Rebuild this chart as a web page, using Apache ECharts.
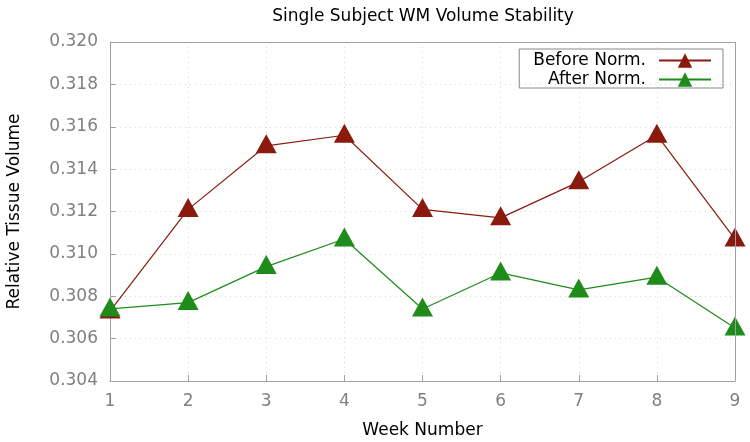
<!DOCTYPE html>
<html><head><meta charset="utf-8">
<script src="https://cdn.jsdelivr.net/npm/echarts@6/dist/echarts.min.js"></script>
<style>html,body{margin:0;padding:0;background:#fff}#c{width:750px;height:442px}</style>
</head><body><div id="c"></div>
<script>
const weeks = [1, 2, 3, 4, 5, 6, 7, 8, 9];
const beforeNorm = [0.3073, 0.3121, 0.3151, 0.3156, 0.3121, 0.3117, 0.3134, 0.3156, 0.3107];
const afterNorm = [0.3074, 0.3077, 0.3094, 0.3107, 0.3074, 0.3091, 0.3083, 0.3089, 0.3065];
const yTicks = ['0.304','0.306','0.308','0.310','0.312','0.314','0.316','0.318','0.320'];

const chart = echarts.init(document.getElementById('c'));
const font = 'DejaVu Sans';
chart.setOption({
  animation: false,
  backgroundColor: '#fff',
  title: {text: 'Single Subject WM Volume Stability', left: 418, textAlign: 'center', top: 3,
    textStyle: {fontFamily: font, fontSize: 17, fontWeight: 'normal', color: '#000'}},
  grid: {left: 110, right: 15, top: 42, bottom: 61, outerBoundsMode: 'none', containLabel: false},
  legend: {
    right: 27, top: 49, orient: 'vertical', align: 'right',
    borderColor: '#888', borderWidth: 1, borderRadius: 0,
    padding: [3, 11, 0, 14], itemGap: 2, itemWidth: 52, itemHeight: 18,
    textStyle: {fontFamily: font, fontSize: 17, color: '#000', padding: [0, 8, 0, 0]},
    data: [{name: 'Before Norm.'}, {name: 'After Norm.'}]
  },
  xAxis: {
    type: 'value', min: 1, max: 9, interval: 1,
    name: 'Week Number', nameLocation: 'middle', nameGap: 41,
    nameTextStyle: {fontFamily: font, fontSize: 17, color: '#000'},
    axisLine: {show: true, lineStyle: {color: '#a0a0a0'}},
    axisTick: {show: true, inside: true, length: 6, lineStyle: {color: '#a0a0a0'}},
    axisLabel: {fontFamily: font, fontSize: 17, color: '#808080', margin: 12},
    splitLine: {show: true, lineStyle: {color: '#d8d8d8', type: [1, 4]}}
  },
  yAxis: {
    type: 'value', min: 0.304, max: 0.320, interval: 0.002,
    name: 'Relative Tissue Volume', nameLocation: 'middle', nameGap: 87,
    nameTextStyle: {fontFamily: font, fontSize: 17, color: '#000'},
    axisLine: {show: true, lineStyle: {color: '#a0a0a0'}},
    axisTick: {show: true, inside: true, length: 6, lineStyle: {color: '#a0a0a0'}},
    axisLabel: {fontFamily: font, fontSize: 17, color: '#808080', margin: 12,
      formatter: v => { const i = Math.round((v - 0.304) / 0.002); return yTicks[i] || ''; }},
    splitLine: {show: true, lineStyle: {color: '#d8d8d8', type: [1, 4]}}
  },
  series: [
    {name: 'Before Norm.', type: 'line', data: weeks.map((w, i) => [w, beforeNorm[i]]),
      symbol: 'triangle', symbolSize: [21, 19], symbolOffset: [0, -2], color: '#8b1a0e',
      lineStyle: {width: 1.2, color: '#8b1a0e'}, itemStyle: {color: '#8b1a0e'}, z: 2},
    {name: 'After Norm.', type: 'line', data: weeks.map((w, i) => [w, afterNorm[i]]),
      symbol: 'triangle', symbolSize: [21, 19], symbolOffset: [0, -2], color: '#1f8b1a',
      lineStyle: {width: 1.2, color: '#1f8b1a'}, itemStyle: {color: '#1f8b1a'}, z: 3},
    {type: 'line', data: [], markLine: {silent: true, symbol: 'none', label: {show: false},
      lineStyle: {color: '#a0a0a0', type: 'solid', width: 1},
      data: [[{coord: [1, 0.320]}, {coord: [9, 0.320]}], [{coord: [9, 0.304]}, {coord: [9, 0.320]}]]}}
  ]
});
</script></body></html>
